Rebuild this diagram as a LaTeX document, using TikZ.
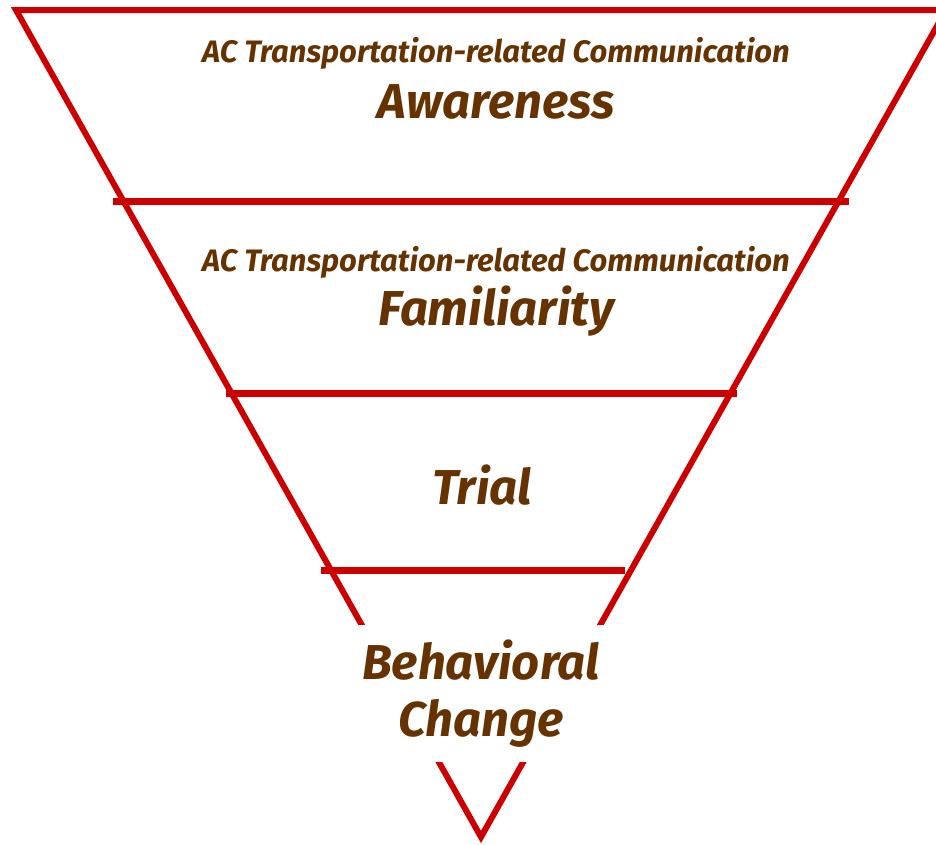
\documentclass[tikz,border=0pt]{standalone}
\usepackage{fontspec}
\setmainfont{Fira Sans}
\definecolor{funnelred}{HTML}{CC0000}
\definecolor{txtbrown}{HTML}{663300}
\begin{document}
\begin{tikzpicture}[x=1pt,y=-1pt,
  edge/.style={draw=funnelred,line width=6pt,line join=miter},
  bar/.style={draw=funnelred,line width=7pt},
  small/.style={text=txtbrown,font=\fontsize{31}{36}\selectfont\bfseries\itshape,inner sep=0pt},
  big/.style={text=txtbrown,font=\fontsize{49}{57}\selectfont\bfseries\itshape,inner sep=0pt,align=center}]
\useasboundingbox (0,0) rectangle (936,844);
\clip (0,0) rectangle (936,844);
\coordinate (tl) at (16,10);
\coordinate (tr) at (946,10);
\coordinate (ap) at (481,837);
\draw[edge] (ap) -- (tl) -- (tr) -- cycle;
\coordinate (b1l) at (113,201); \coordinate (b1r) at (849,201);
\coordinate (b2l) at (226,393); \coordinate (b2r) at (737,393);
\coordinate (b3l) at (321,570); \coordinate (b3r) at (625,570);
\draw[bar] (b1l) -- (b1r);
\draw[bar] (b2l) -- (b2r);
\draw[bar] (b3l) -- (b3r);
\node[small] (s1) at (496,53) {AC Transportation-related Communication};
\node[big] (aw) at (496,102) {Awareness};
\node[small] (s2) at (496,262) {AC Transportation-related Communication};
\node[big] (fa) at (496,311) {Familiarity};
\node[big] (tr1) at (482,485) {Trial};
\fill[white] (335,625) rectangle (625,762);
\node[big] (bc) at (481,694) {Behavioral\\Change};
\end{tikzpicture}
\end{document}
